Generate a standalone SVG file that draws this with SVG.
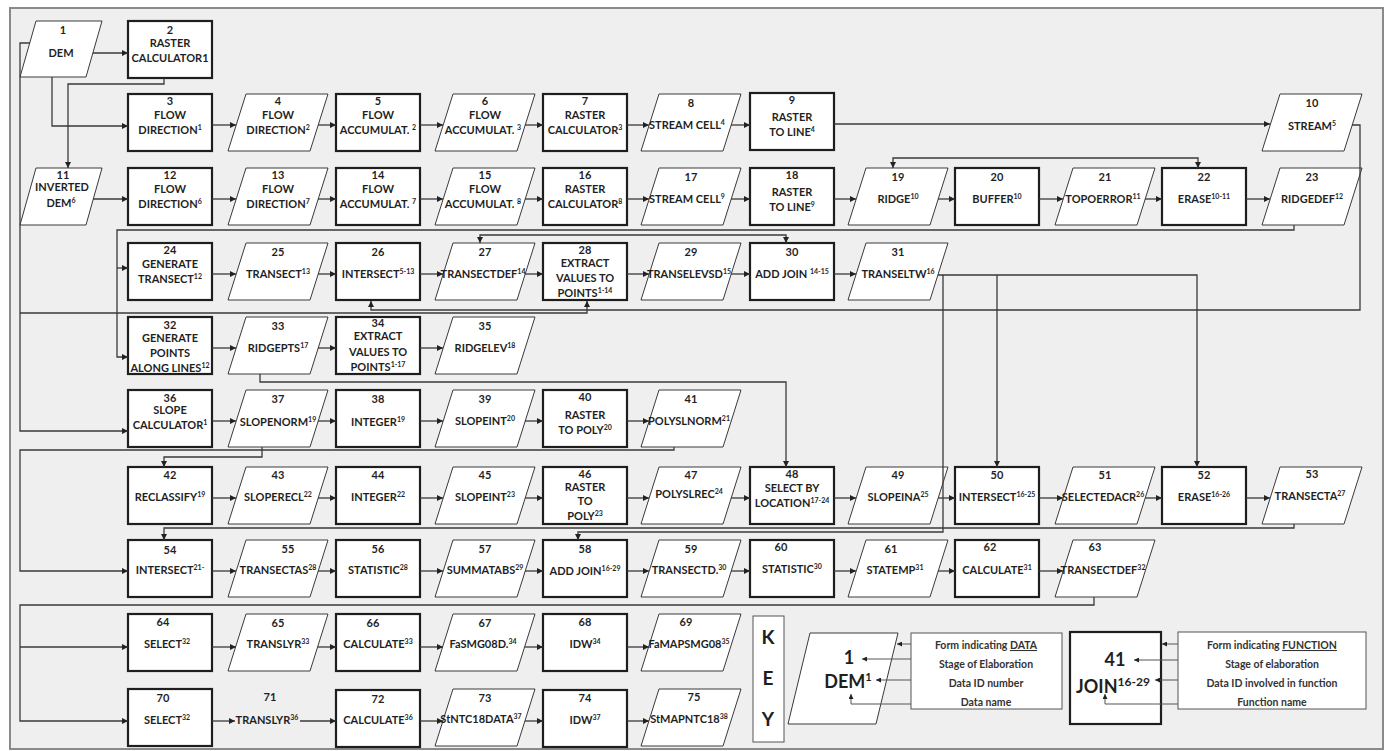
<svg xmlns="http://www.w3.org/2000/svg" width="1389" height="751" viewBox="0 0 1389 751">
<defs>
<style>
.bx{fill:#fff;stroke:#1e1e1e;stroke-width:2.2}
.pa{fill:#fff;stroke:#3a3a3a;stroke-width:1}
.kb{fill:#fff;stroke:#555;stroke-width:1}
text{font-family:Lato,"Liberation Sans",sans-serif;font-weight:700;font-size:11px;fill:#1f1f1f;text-anchor:middle}
.s{font-size:7px}
.c path{fill:none;stroke:#3a3a3a;stroke-width:1.3;marker-end:url(#ah)}
.c path.b{marker-start:url(#ah)}
.k path{fill:none;stroke:#555;stroke-width:1;marker-end:url(#ak)}
.kt{font-size:10.5px;fill:#333}
.big{font-size:18px;fill:#1e1e1e}
.key{font-size:19px;fill:#1e1e1e}
</style>
<marker id="ah" viewBox="0 0 10 10" refX="10" refY="5" markerWidth="7" markerHeight="6" markerUnits="userSpaceOnUse" orient="auto-start-reverse"><path d="M0,0 L10,5 L0,10 z" fill="#222"/></marker>
<marker id="ak" viewBox="0 0 10 10" refX="10" refY="5" markerWidth="6" markerHeight="5" markerUnits="userSpaceOnUse" orient="auto"><path d="M0,0 L10,5 L0,10 z" fill="#222"/></marker>
</defs>
<rect x="0" y="0" width="1389" height="751" fill="#fff"/>
<rect x="10" y="8" width="1373" height="741" fill="#efefef" stroke="#8a8a8a" stroke-width="2"/>

<g id="n1"><polygon class="pa" points="20,77 36,21 102,21 86,77"/><text x="63" y="34">1</text><text x="61" y="57">DEM</text></g>
<g id="n2"><rect class="bx" x="128" y="21" width="84" height="57"/><text x="170" y="34">2</text><text x="170" y="47">RASTER</text><text x="170" y="62">CALCULATOR1</text></g>

<g id="n3"><rect class="bx" x="128" y="94" width="84" height="57"/><text x="170" y="105">3</text><text x="170" y="119">FLOW</text><text x="170" y="134">DIRECTION<tspan class="s" dy="-4">1</tspan></text></g>
<g id="n4"><polygon class="pa" points="228,151 246,94 328,94 310,151"/><text x="278" y="105">4</text><text x="278" y="119">FLOW</text><text x="278" y="134">DIRECTION<tspan class="s" dy="-4">2</tspan></text></g>
<g id="n5"><rect class="bx" x="336" y="94" width="84" height="57"/><text x="378" y="105">5</text><text x="378" y="119">FLOW</text><text x="378" y="134">ACCUMULAT. <tspan class="s" dy="-4">2</tspan></text></g>
<g id="n6"><polygon class="pa" points="435,151 453,94 535,94 517,151"/><text x="485" y="105">6</text><text x="485" y="119">FLOW</text><text x="483" y="134">ACCUMULAT. <tspan class="s" dy="-4">3</tspan></text></g>
<g id="n7"><rect class="bx" x="543" y="94" width="84" height="57"/><text x="585" y="105">7</text><text x="585" y="119">RASTER</text><text x="585" y="134">CALCULATOR<tspan class="s" dy="-4">3</tspan></text></g>
<g id="n8"><polygon class="pa" points="641,151 659,94 741,94 723,151"/><text x="691" y="107">8</text><text x="687" y="129">STREAM CELL<tspan class="s" dy="-4">4</tspan></text></g>
<g id="n9"><rect class="bx" x="750" y="93" width="84" height="57"/><text x="792" y="104">9</text><text x="792" y="121">RASTER</text><text x="792" y="136">TO LINE<tspan class="s" dy="-4">4</tspan></text></g>
<g id="n10"><polygon class="pa" points="1262,151 1280,94 1362,94 1344,151"/><text x="1312" y="107">10</text><text x="1312" y="130">STREAM<tspan class="s" dy="-4">5</tspan></text></g>

<g id="n11"><polygon class="pa" points="20,225 36,168 102,168 86,225"/><text x="63" y="179">11</text><text x="62" y="191">INVERTED</text><text x="61" y="207">DEM<tspan class="s" dy="-4">6</tspan></text></g>
<g id="n12"><rect class="bx" x="128" y="168" width="84" height="57"/><text x="170" y="179">12</text><text x="170" y="193">FLOW</text><text x="170" y="208">DIRECTION<tspan class="s" dy="-4">6</tspan></text></g>
<g id="n13"><polygon class="pa" points="228,225 246,168 328,168 310,225"/><text x="278" y="179">13</text><text x="278" y="193">FLOW</text><text x="278" y="208">DIRECTION<tspan class="s" dy="-4">7</tspan></text></g>
<g id="n14"><rect class="bx" x="336" y="168" width="84" height="57"/><text x="378" y="179">14</text><text x="378" y="193">FLOW</text><text x="378" y="208">ACCUMULAT. <tspan class="s" dy="-4">7</tspan></text></g>
<g id="n15"><polygon class="pa" points="435,225 453,168 535,168 517,225"/><text x="485" y="179">15</text><text x="485" y="193">FLOW</text><text x="483" y="208">ACCUMULAT. <tspan class="s" dy="-4">8</tspan></text></g>
<g id="n16"><rect class="bx" x="543" y="168" width="84" height="57"/><text x="585" y="179">16</text><text x="585" y="193">RASTER</text><text x="585" y="208">CALCULATOR<tspan class="s" dy="-4">8</tspan></text></g>
<g id="n17"><polygon class="pa" points="641,225 659,168 741,168 723,225"/><text x="691" y="181">17</text><text x="687" y="203">STREAM CELL<tspan class="s" dy="-4">9</tspan></text></g>
<g id="n18"><rect class="bx" x="750" y="168" width="84" height="57"/><text x="792" y="179">18</text><text x="792" y="196">RASTER</text><text x="792" y="211">TO LINE<tspan class="s" dy="-4">9</tspan></text></g>
<g id="n19"><polygon class="pa" points="848,225 866,168 948,168 930,225"/><text x="898" y="181">19</text><text x="898" y="203">RIDGE<tspan class="s" dy="-4">10</tspan></text></g>
<g id="n20"><rect class="bx" x="955" y="168" width="84" height="57"/><text x="997" y="181">20</text><text x="997" y="203">BUFFER<tspan class="s" dy="-4">10</tspan></text></g>
<g id="n21"><polygon class="pa" points="1055,225 1073,168 1155,168 1137,225"/><text x="1105" y="181">21</text><text x="1103" y="203">TOPOERROR<tspan class="s" dy="-4">11</tspan></text></g>
<g id="n22"><rect class="bx" x="1162" y="168" width="84" height="57"/><text x="1204" y="181">22</text><text x="1204" y="203">ERASE<tspan class="s" dy="-4">10-11</tspan></text></g>
<g id="n23"><polygon class="pa" points="1262,225 1280,168 1362,168 1344,225"/><text x="1312" y="181">23</text><text x="1312" y="203">RIDGEDEF<tspan class="s" dy="-4">12</tspan></text></g>

<g id="n24"><rect class="bx" x="128" y="243" width="84" height="57"/><text x="170" y="254">24</text><text x="170" y="268">GENERATE</text><text x="170" y="283">TRANSECT<tspan class="s" dy="-4">12</tspan></text></g>
<g id="n25"><polygon class="pa" points="228,300 246,243 328,243 310,300"/><text x="278" y="256">25</text><text x="278" y="278">TRANSECT<tspan class="s" dy="-4">13</tspan></text></g>
<g id="n26"><rect class="bx" x="336" y="243" width="84" height="57"/><text x="378" y="256">26</text><text x="378" y="278">INTERSECT<tspan class="s" dy="-4">5-13</tspan></text></g>
<g id="n27"><polygon class="pa" points="435,300 453,243 535,243 517,300"/><text x="485" y="256">27</text><text x="483" y="278">TRANSECTDEF<tspan class="s" dy="-4">14</tspan></text></g>
<g id="n28"><rect class="bx" x="543" y="243" width="84" height="57"/><text x="585" y="254">28</text><text x="585" y="267">EXTRACT</text><text x="585" y="282">VALUES TO</text><text x="585" y="297">POINTS<tspan class="s" dy="-4">1-14</tspan></text></g>
<g id="n29"><polygon class="pa" points="641,300 659,243 741,243 723,300"/><text x="691" y="256">29</text><text x="689" y="278">TRANSELEVSD<tspan class="s" dy="-4">15</tspan></text></g>
<g id="n30"><rect class="bx" x="750" y="243" width="84" height="57"/><text x="792" y="256">30</text><text x="792" y="278">ADD JOIN <tspan class="s" dy="-4">14-15</tspan></text></g>
<g id="n31"><polygon class="pa" points="848,300 866,243 948,243 930,300"/><text x="898" y="256">31</text><text x="898" y="278">TRANSELTW<tspan class="s" dy="-4">16</tspan></text></g>

<g id="n32"><rect class="bx" x="128" y="317" width="84" height="57"/><text x="170" y="329">32</text><text x="170" y="342">GENERATE</text><text x="170" y="357">POINTS</text><text x="170" y="372">ALONG LINES<tspan class="s" dy="-4">12</tspan></text></g>
<g id="n33"><polygon class="pa" points="228,374 246,317 328,317 310,374"/><text x="278" y="330">33</text><text x="278" y="352">RIDGEPTS<tspan class="s" dy="-4">17</tspan></text></g>
<g id="n34"><rect class="bx" x="336" y="317" width="84" height="57"/><text x="378" y="327">34</text><text x="378" y="340">EXTRACT</text><text x="378" y="356">VALUES TO</text><text x="378" y="371">POINTS<tspan class="s" dy="-4">1-17</tspan></text></g>
<g id="n35"><polygon class="pa" points="435,374 453,317 535,317 517,374"/><text x="485" y="330">35</text><text x="485" y="352">RIDGELEV<tspan class="s" dy="-4">18</tspan></text></g>

<g id="n36"><rect class="bx" x="128" y="390" width="84" height="57"/><text x="170" y="402">36</text><text x="170" y="414">SLOPE</text><text x="170" y="429">CALCULATOR<tspan class="s" dy="-4">1</tspan></text></g>
<g id="n37"><polygon class="pa" points="228,447 246,390 328,390 310,447"/><text x="278" y="403">37</text><text x="278" y="426">SLOPENORM<tspan class="s" dy="-4">19</tspan></text></g>
<g id="n38"><rect class="bx" x="336" y="390" width="84" height="57"/><text x="378" y="403">38</text><text x="378" y="426">INTEGER<tspan class="s" dy="-4">19</tspan></text></g>
<g id="n39"><polygon class="pa" points="435,447 453,390 535,390 517,447"/><text x="485" y="403">39</text><text x="485" y="425">SLOPEINT<tspan class="s" dy="-4">20</tspan></text></g>
<g id="n40"><rect class="bx" x="543" y="390" width="84" height="57"/><text x="585" y="401">40</text><text x="585" y="419">RASTER</text><text x="585" y="434">TO POLY<tspan class="s" dy="-4">20</tspan></text></g>
<g id="n41"><polygon class="pa" points="641,447 659,390 741,390 723,447"/><text x="691" y="403">41</text><text x="689" y="425">POLYSLNORM<tspan class="s" dy="-4">21</tspan></text></g>

<g id="n42"><rect class="bx" x="128" y="467" width="84" height="57"/><text x="170" y="479">42</text><text x="170" y="501">RECLASSIFY<tspan class="s" dy="-4">19</tspan></text></g>
<g id="n43"><polygon class="pa" points="228,524 246,467 328,467 310,524"/><text x="278" y="479">43</text><text x="278" y="501">SLOPERECL<tspan class="s" dy="-4">22</tspan></text></g>
<g id="n44"><rect class="bx" x="336" y="467" width="84" height="57"/><text x="378" y="479">44</text><text x="378" y="501">INTEGER<tspan class="s" dy="-4">22</tspan></text></g>
<g id="n45"><polygon class="pa" points="435,524 453,467 535,467 517,524"/><text x="485" y="479">45</text><text x="485" y="501">SLOPEINT<tspan class="s" dy="-4">23</tspan></text></g>
<g id="n46"><rect class="bx" x="543" y="467" width="84" height="57"/><text x="585" y="478">46</text><text x="585" y="491">RASTER</text><text x="585" y="505">TO</text><text x="585" y="520">POLY<tspan class="s" dy="-4">23</tspan></text></g>
<g id="n47"><polygon class="pa" points="641,524 659,467 741,467 723,524"/><text x="691" y="479">47</text><text x="689" y="498">POLYSLREC<tspan class="s" dy="-4">24</tspan></text></g>
<g id="n48"><rect class="bx" x="750" y="467" width="84" height="57"/><text x="792" y="478">48</text><text x="792" y="492">SELECT BY</text><text x="792" y="507">LOCATION<tspan class="s" dy="-4">17-24</tspan></text></g>
<g id="n49"><polygon class="pa" points="848,524 866,467 948,467 930,524"/><text x="898" y="479">49</text><text x="898" y="501">SLOPEINA<tspan class="s" dy="-4">25</tspan></text></g>
<g id="n50"><rect class="bx" x="955" y="467" width="84" height="57"/><text x="997" y="479">50</text><text x="997" y="501">INTERSECT<tspan class="s" dy="-4">16-25</tspan></text></g>
<g id="n51"><polygon class="pa" points="1055,524 1073,467 1155,467 1137,524"/><text x="1105" y="479">51</text><text x="1103" y="501">SELECTEDACR<tspan class="s" dy="-4">26</tspan></text></g>
<g id="n52"><rect class="bx" x="1162" y="467" width="84" height="57"/><text x="1204" y="479">52</text><text x="1204" y="501">ERASE<tspan class="s" dy="-4">16-26</tspan></text></g>
<g id="n53"><polygon class="pa" points="1262,524 1280,467 1362,467 1344,524"/><text x="1312" y="478">53</text><text x="1310" y="500">TRANSECTA<tspan class="s" dy="-4">27</tspan></text></g>

<g id="n54"><rect class="bx" x="128" y="540" width="84" height="57"/><text x="170" y="554">54</text><text x="170" y="574">INTERSECT<tspan class="s" dy="-4">21-</tspan></text></g>
<g id="n55"><polygon class="pa" points="228,597 246,540 328,540 310,597"/><text x="288" y="553">55</text><text x="278" y="574">TRANSECTAS<tspan class="s" dy="-4">28</tspan></text></g>
<g id="n56"><rect class="bx" x="336" y="540" width="84" height="57"/><text x="378" y="553">56</text><text x="378" y="574">STATISTIC<tspan class="s" dy="-4">28</tspan></text></g>
<g id="n57"><polygon class="pa" points="435,597 453,540 535,540 517,597"/><text x="485" y="553">57</text><text x="485" y="574">SUMMATABS<tspan class="s" dy="-4">29</tspan></text></g>
<g id="n58"><rect class="bx" x="543" y="540" width="84" height="57"/><text x="585" y="553">58</text><text x="585" y="575">ADD JOIN<tspan class="s" dy="-4">16-29</tspan></text></g>
<g id="n59"><polygon class="pa" points="641,597 659,540 741,540 723,597"/><text x="691" y="553">59</text><text x="689" y="574">TRANSECTD.<tspan class="s" dy="-4">30</tspan></text></g>
<g id="n60"><rect class="bx" x="750" y="540" width="84" height="57"/><text x="781" y="551">60</text><text x="792" y="573">STATISTIC<tspan class="s" dy="-4">30</tspan></text></g>
<g id="n61"><polygon class="pa" points="848,597 866,540 948,540 930,597"/><text x="891" y="553">61</text><text x="895" y="574">STATEMP<tspan class="s" dy="-4">31</tspan></text></g>
<g id="n62"><rect class="bx" x="955" y="540" width="84" height="57"/><text x="990" y="551">62</text><text x="997" y="574">CALCULATE<tspan class="s" dy="-4">31</tspan></text></g>
<g id="n63"><polygon class="pa" points="1055,597 1073,540 1155,540 1137,597"/><text x="1095" y="551">63</text><text x="1103" y="574">TRANSECTDEF<tspan class="s" dy="-4">32</tspan></text></g>

<g id="n64"><rect class="bx" x="128" y="614" width="84" height="57"/><text x="163" y="626">64</text><text x="167" y="648">SELECT<tspan class="s" dy="-4">32</tspan></text></g>
<g id="n65"><polygon class="pa" points="228,671 246,614 328,614 310,671"/><text x="278" y="627">65</text><text x="278" y="648">TRANSLYR<tspan class="s" dy="-4">33</tspan></text></g>
<g id="n66"><rect class="bx" x="336" y="614" width="84" height="57"/><text x="373" y="627">66</text><text x="378" y="648">CALCULATE<tspan class="s" dy="-4">33</tspan></text></g>
<g id="n67"><polygon class="pa" points="435,671 453,614 535,614 517,671"/><text x="485" y="627">67</text><text x="483" y="648">FaSMG08D.<tspan class="s" dy="-4">34</tspan></text></g>
<g id="n68"><rect class="bx" x="543" y="614" width="84" height="57"/><text x="585" y="626">68</text><text x="585" y="648">IDW<tspan class="s" dy="-4">34</tspan></text></g>
<g id="n69"><polygon class="pa" points="641,671 659,614 741,614 723,671"/><text x="686" y="626">69</text><text x="689" y="648">FaMAPSMG08<tspan class="s" dy="-4">35</tspan></text></g>

<g id="n70"><rect class="bx" x="128" y="689" width="84" height="57"/><text x="163" y="702">70</text><text x="167" y="724">SELECT<tspan class="s" dy="-4">32</tspan></text></g>
<g id="n71"><text x="270" y="701">71</text><text x="267" y="724">TRANSLYR<tspan class="s" dy="-4">36</tspan></text></g>
<g id="n72"><rect class="bx" x="336" y="690" width="84" height="57"/><text x="378" y="703">72</text><text x="378" y="724">CALCULATE<tspan class="s" dy="-4">36</tspan></text></g>
<g id="n73"><polygon class="pa" points="435,746 453,689 535,689 517,746"/><text x="485" y="702">73</text><text x="481" y="723">StNTC18DATA<tspan class="s" dy="-4">37</tspan></text></g>
<g id="n74"><rect class="bx" x="543" y="690" width="84" height="57"/><text x="585" y="702">74</text><text x="585" y="724">IDW<tspan class="s" dy="-4">37</tspan></text></g>
<g id="n75"><polygon class="pa" points="641,746 659,689 741,689 723,746"/><text x="694" y="701">75</text><text x="689" y="723">StMAPNTC18<tspan class="s" dy="-4">38</tspan></text></g>

<g id="key">
<rect class="kb" x="753" y="616" width="31" height="126"/>
<text class="key" x="768" y="644">K</text><text class="key" x="768" y="685">E</text><text class="key" x="768" y="726">Y</text>
<polygon class="pa" points="788,724 810,633 898,633 876,724"/>
<text class="big" x="849" y="664">1</text>
<text class="big" x="848" y="688">DEM<tspan font-size="11" dy="-7">1</tspan></text>
<rect class="kb" x="911" y="633" width="151" height="76"/>
<text class="kt" x="986" y="649">Form indicating  <tspan style="text-decoration:underline">DATA</tspan></text>
<text class="kt" x="986" y="668">Stage of Elaboration</text>
<text class="kt" x="986" y="687">Data ID number</text>
<text class="kt" x="986" y="706">Data name</text>
<rect class="bx" x="1070" y="632" width="91" height="92"/>
<text class="big" x="1115" y="666">41</text>
<text class="big" x="1113" y="693">JOIN<tspan font-size="12" dy="-7">16-29</tspan></text>
<rect class="kb" x="1178" y="632" width="188" height="77"/>
<text class="kt" x="1272" y="649">Form indicating <tspan style="text-decoration:underline">FUNCTION</tspan></text>
<text class="kt" x="1272" y="668">Stage of elaboration</text>
<text class="kt" x="1272" y="687">Data ID involved in function</text>
<text class="kt" x="1272" y="706">Function name</text>
</g>

<g id="connectors" class="c">
<path d="M93,53H128"/>
<path d="M52,77V126H128"/>
<path d="M164,78V84H68V168"/>
<path d="M30,43H20V431H128"/>
<path d="M20,313H587V301"/>
<path d="M1352,125H1360V310H371V301"/>
<path d="M212,125H236"/><path d="M318,125H336"/><path d="M420,125H443"/><path d="M525,125H543"/><path d="M627,125H649"/><path d="M731,125H750"/><path d="M834,124H1270"/>
<path d="M93,199H128"/><path d="M212,199H236"/><path d="M318,199H336"/><path d="M420,199H443"/><path d="M525,199H543"/><path d="M627,199H649"/><path d="M731,199H750"/><path d="M834,199H856"/><path d="M938,199H955"/><path d="M1039,199H1063"/><path d="M1145,199H1162"/><path d="M1246,199H1270"/>
<path class="b" d="M893,168V158H1198V168"/>
<path d="M1294,225V230H117V357H128"/>
<path d="M117,268H128"/>
<path d="M212,274H236"/><path d="M318,274H336"/><path d="M420,274H443"/><path d="M525,274H543"/><path d="M627,274H649"/><path d="M731,274H750"/><path d="M834,274H856"/>
<path class="b" d="M480,243V235H786V243"/>
<path d="M938,275H1197V467"/>
<path d="M997,275V467"/>
<path d="M943,275V532H578V540"/>
<path d="M212,348H236"/><path d="M318,348H336"/><path d="M420,348H443"/>
<path d="M260,374V382H786V467"/>
<path d="M212,421H236"/><path d="M318,421H336"/><path d="M420,421H443"/><path d="M525,421H543"/><path d="M627,421H649"/>
<path d="M262,447V457H164V467"/>
<path d="M674,447V450H20V571H128"/>
<path d="M212,498H236"/><path d="M318,498H336"/><path d="M420,498H443"/><path d="M525,498H543"/><path d="M627,498H649"/><path d="M731,498H750"/><path d="M834,498H856"/><path d="M938,498H955"/><path d="M1039,498H1063"/><path d="M1145,498H1162"/><path d="M1246,498H1270"/>
<path d="M1294,524V528H164V540"/>
<path d="M212,571H236"/><path d="M318,571H336"/><path d="M420,571H443"/><path d="M525,571H543"/><path d="M627,571H649"/><path d="M731,571H750"/><path d="M834,571H856"/><path d="M938,571H955"/><path d="M1039,571H1063"/>
<path d="M1094,597V605H20V721H128"/>
<path d="M20,647H128"/>
<path d="M212,647H236"/><path d="M318,647H336"/><path d="M420,647H443"/><path d="M525,647H543"/><path d="M627,647H649"/>
<path d="M212,721H235"/><path d="M300,721H336"/><path d="M420,721H443"/><path d="M525,721H543"/><path d="M627,721H649"/>
</g>
<g id="key-connectors" class="k">
<path d="M911,644H897"/><path d="M911,659H862"/><path d="M911,680H876"/><path d="M911,704H851V694"/>
<path d="M1178,644H1162"/><path d="M1178,660H1134"/><path d="M1178,680H1155"/><path d="M1178,704H1105V694"/>
</g>
</svg>
